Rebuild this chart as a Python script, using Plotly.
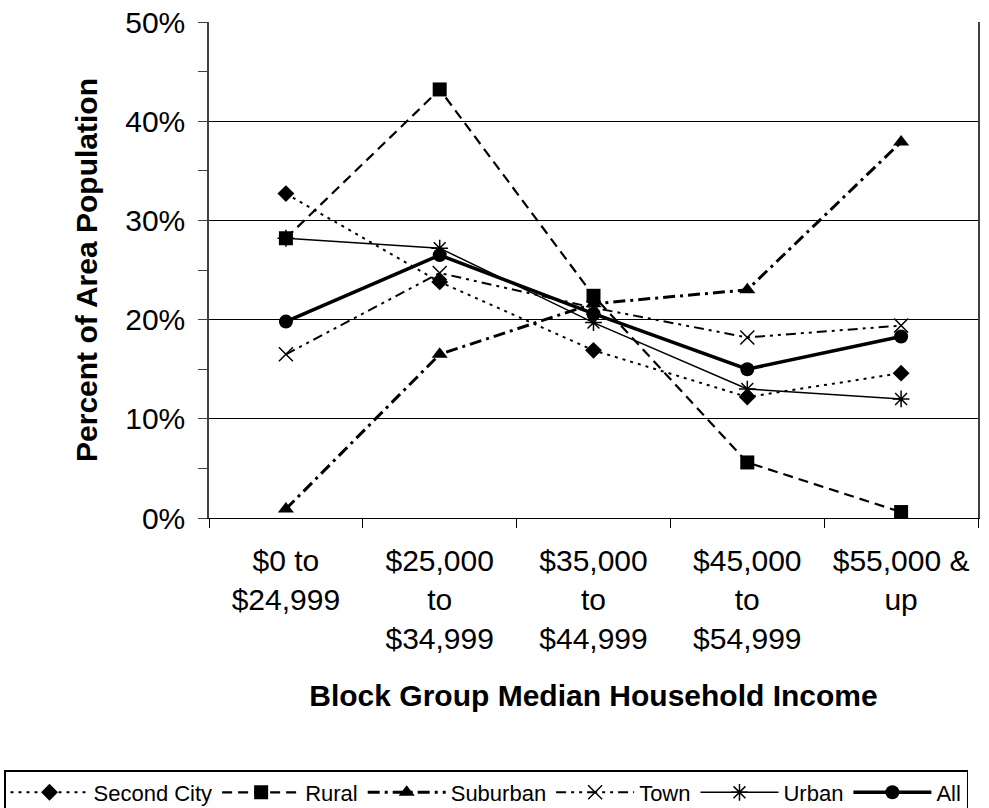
import plotly.graph_objects as go

categories = ["$0 to<br>$24,999", "$25,000<br>to<br>$34,999", "$35,000<br>to<br>$44,999",
              "$45,000<br>to<br>$54,999", "$55,000 &<br>up"]

second_city = [0.327, 0.238, 0.169, 0.122, 0.146]
rural = [0.282, 0.432, 0.224, 0.056, 0.006]
suburban = [0.009, 0.165, 0.216, 0.230, 0.379]
town = [0.165, 0.247, 0.212, 0.182, 0.194]
urban = [0.282, 0.272, 0.197, 0.130, 0.120]
all_areas = [0.198, 0.265, 0.206, 0.150, 0.183]

series = [
    ("Second City", second_city, dict(dash="3px,5px", width=2), dict(symbol="diamond", size=13)),
    ("Rural", rural, dict(dash="10px,6px", width=2.2), dict(symbol="square", size=14)),
    ("Suburban", suburban, dict(dash="12px,5px,3px,5px", width=3), dict(symbol="triangle-up", size=14)),
    ("Town", town, dict(dash="10px,5px,3px,5px,3px,5px", width=2),
     dict(symbol="x-thin-open", size=14, line=dict(width=1.5, color="black"))),
    ("Urban", urban, dict(dash="solid", width=1.5),
     dict(symbol="asterisk-open", size=14, line=dict(width=1.5, color="black"))),
    ("All", all_areas, dict(dash="solid", width=3.5), dict(symbol="circle", size=14)),
]

FONT = "Liberation Sans, Arial, sans-serif"

L, R, T, B = 209, 11, 22, 290
W, H = 989, 808
plot_w = W - L - R
plot_h = H - T - B

fig = go.Figure()
for name, vals, line, marker in series:
    marker = dict(marker)
    marker.setdefault("color", "black")
    fig.add_trace(go.Scatter(x=categories, y=vals, name=name, mode="lines+markers",
                             line=dict(color="black", **line), marker=marker))

fig.update_layout(
    width=W, height=H,
    margin=dict(l=L, r=R, t=T, b=B, autoexpand=False),
    paper_bgcolor="white", plot_bgcolor="white",
    font=dict(family=FONT, size=30, color="black"),
    showlegend=True,
    legend=dict(orientation="h", xref="paper", yref="paper",
                x=(4 - L) / plot_w, xanchor="left",
                y=-(770 - (H - B)) / plot_h, yanchor="top",
                font=dict(size=22), bordercolor="black", borderwidth=1.5,
                itemwidth=78, traceorder="normal"),
    xaxis=dict(type="category", range=[-0.5, 4.5], tickson="boundaries", ticks="outside",
               ticklen=9, tickcolor="black", showline=True, linecolor="black", linewidth=1,
               showgrid=False, tickfont=dict(size=30), ticklabelstandoff=16,
               title=dict(text="<b>Block Group Median Household Income</b>", font=dict(size=30), standoff=30)),
    yaxis=dict(range=[0, 0.5], dtick=0.1, tickformat=".0%", ticks="outside", ticklen=9,
               tickcolor="#404040", showline=True, linecolor="#404040", linewidth=1.5, mirror=True,
               showgrid=True, gridcolor="black", gridwidth=1, zeroline=False,
               minor=dict(dtick=0.05, ticks="outside", ticklen=9, tickcolor="#404040", showgrid=False),
               tickfont=dict(size=30), ticklabelstandoff=7,
               title=dict(text="<b>Percent of Area Population</b>", font=dict(size=30), standoff=19)),
    yaxis2=dict(overlaying="y", range=[0, 0.5], dtick=0.1, ticks="inside", ticklen=9,
                tickcolor="#404040", showticklabels=False, showgrid=False, zeroline=False,
                minor=dict(dtick=0.05, ticks="inside", ticklen=9, tickcolor="#404040"),
                side="left", showline=False),
)

fig.write_html("out.html")
